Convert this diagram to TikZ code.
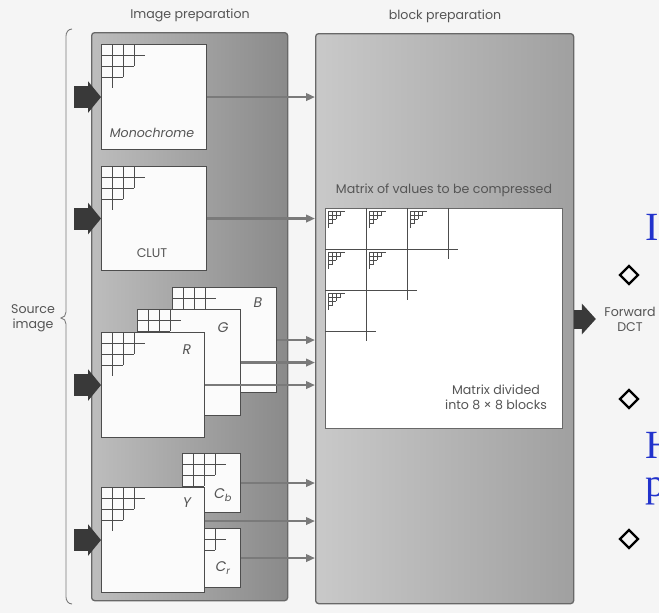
\documentclass[tikz,border=0pt]{standalone}
\usepackage{fontspec}
\setmainfont{Poppins}
\newfontfamily\slidefont{Liberation Serif}
\usetikzlibrary{arrows.meta,shapes.geometric,calc,positioning}

\definecolor{paper}{HTML}{F5F5F5}
\definecolor{panelL}{HTML}{BDBDBD}
\definecolor{panelR}{HTML}{8A8A8A}
\definecolor{blkL}{HTML}{C9C9C9}
\definecolor{blkR}{HTML}{A0A0A0}
\definecolor{edge}{HTML}{4D4D4D}
\definecolor{ink}{HTML}{555555}
\definecolor{feedgray}{HTML}{7A7A7A}
\definecolor{fatgray}{HTML}{393939}
\definecolor{slideblue}{HTML}{2233CC}

\tikzset{
  panel/.style={draw=edge!85, line width=1.3pt, rounded corners=3pt, anchor=north west, inner sep=0pt},
  imgbox/.style={draw=edge, fill=white!97!gray, line width=1.1pt, anchor=north west, inner sep=0pt},
  gridline/.style={draw=edge, line width=0.9pt},
  mini/.style={draw=edge, line width=0.6pt},
  feed/.style={draw=feedgray, line width=2.6pt, -{Triangle[length=9pt,width=7.5pt]}},
  fatarrow/.style={draw=fatgray, line width=22pt, -{Triangle[length=13pt,width=31pt]}},
  lbl/.style={text=ink, font=\fontsize{12.6}{15}\selectfont},
  chan/.style={text=ink, font=\fontsize{14}{16}\selectfont\itshape},
  slide/.style={text=slideblue, font=\slidefont\fontsize{40}{40}\selectfont, inner sep=0pt},
  bullet/.style={diamond, draw, line width=2.3pt, minimum size=19pt, inner sep=0pt},
}

% staircase grid in the top left corner of an image box
\newcommand\cornergrid[1]{%
  \foreach \i in {1,2,3}{
    \draw[gridline] ($(#1.north west)+(\i*11,0)$) -- ++(0,{(5-\i)*11});
    \draw[gridline] ($(#1.north west)+(0,\i*11)$) -- ++({(5-\i)*11},0);
  }}

\begin{document}
\begin{tikzpicture}[x=1pt,y=-1pt]
\useasboundingbox[fill=paper] (0,0) rectangle (659,613);

% the two stages
\node[panel, left color=panelL, right color=panelR, minimum width=196, minimum height=568] (img) at (91,32) {};
\node[panel, left color=blkL, right color=blkR, minimum width=258, minimum height=570] (blk) at (315,33) {};
\node[lbl] (imgt) at (190,15) {Image preparation};
\node[lbl] (blkt) at (445,16) {block preparation};

% source image brace
\draw[feedgray, line width=0.9pt] (72,29) to[out=180,in=90] (66,36) -- (66,312)
  to[out=-90,in=0] (61,318) to[out=0,in=90] (66,324) -- (66,597) to[out=-90,in=180] (72,604);
\node[lbl, align=center] (srct) at (33,318) {Source\\image};
\coordinate (src) at (74,0);

% monochrome and CLUT
\node[imgbox, minimum width=105, minimum height=105] (mono) at (101,44) {};
\cornergrid{mono}
\node[lbl, font=\fontsize{12.6}{15}\selectfont\itshape] at (152,133) {Monochrome};
\node[imgbox, minimum width=105, minimum height=104] (clut) at (101,166) {};
\cornergrid{clut}
\node[lbl] at (152,253) {CLUT};

% RGB
\node[imgbox, minimum width=104, minimum height=105] (B) at (172,287) {};
\cornergrid{B}
\node[chan] at (258,303) {B};
\node[imgbox, minimum width=103, minimum height=106] (G) at (137,309) {};
\cornergrid{G}
\node[chan] at (223,328) {G};
\node[imgbox, minimum width=103, minimum height=105] (R) at (101,332) {};
\cornergrid{R}
\node[chan] at (187,350) {R};

% YCbCr
\node[imgbox, minimum width=58, minimum height=59] (Cb) at (182,453) {};
\cornergrid{Cb}
\node[chan] at (223,495) {C\textsubscript{b}};
\node[imgbox, minimum width=58, minimum height=59] (Cr) at (182,528) {};
\cornergrid{Cr}
\node[chan] at (223,568) {C\textsubscript{r}};
\node[imgbox, minimum width=103, minimum height=105] (Y) at (101,487) {};
\cornergrid{Y}
\node[chan] at (187,503) {Y};

% source image into the stage
\foreach \n in {mono,clut,R,Y}
  \draw[fatarrow] (\n.west -| src) -- (\n.west);

% image planes to block preparation
\foreach \n in {mono,clut,B,G,R,Cb,Cr}
  \draw[feed] (\n.east) -- (\n.east -| blk.west);
\coordinate (Yout) at ([yshift=19pt]Y.east);
\draw[feed] (Yout) -- (Yout -| blk.west);

% matrix of values
\node[lbl] (matt) at (444,190) {Matrix of values to be compressed};
\node[imgbox, draw=edge!85, line width=1.3pt, fill=white, minimum width=237, minimum height=220] (mat) at (325,208) {};
\foreach \i in {1,2,3}{
  \draw[gridline] ($(mat.north west)+(\i*41,0)$) -- ++(0,{(4-\i)*41+10});
  \draw[gridline] ($(mat.north west)+(0,\i*41)$) -- ++({(4-\i)*41+10},0);
}
\foreach \c/\r in {0/0,1/0,2/0,0/1,1/1,0/2}{
  \foreach \i in {0,...,3}{
    \draw[mini] ($(mat.north west)+(\c*41+3+\i*4.2,\r*41+3)$) -- ++(0,{(4-\i)*4.2});
    \draw[mini] ($(mat.north west)+(\c*41+3,\r*41+3+\i*4.2)$) -- ++({(4-\i)*4.2},0);
  }}
\node[lbl, align=center] (divt) at (496,397) {Matrix divided\\into 8 × 8 blocks};

% out to the DCT
\node[lbl, align=center] (dct) at (630,319) {Forward\\DCT};
\draw[fatarrow, line width=19pt, -{Triangle[length=14pt,width=30pt]}] (blk.east |- dct) -- ([xshift=-5pt]dct.west);

% slide overlay
\node[slide, anchor=base west] (sI) at (645,240) {I};
\node[slide, anchor=base west] (sH) at (645,458) {H};
\node[slide, anchor=base west] (sp) at (645,496) {p};
\node[bullet] (d1) at (629,275) {};
\node[bullet] (d2) at (629,399) {};
\node[bullet] (d3) at (629,539) {};
\end{tikzpicture}
\end{document}
